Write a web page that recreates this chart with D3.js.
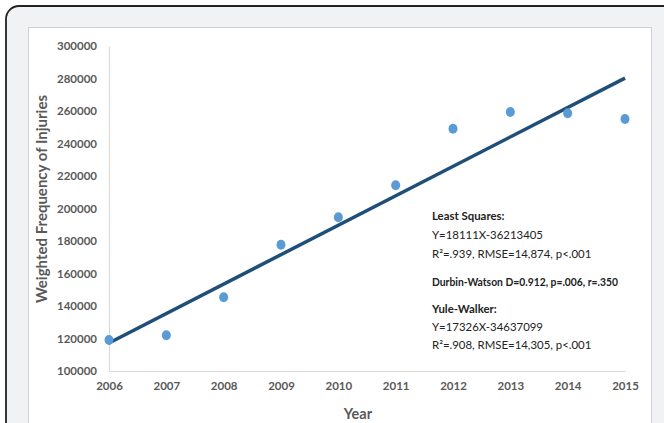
<!DOCTYPE html>
<html><head><meta charset="utf-8">
<script src="https://cdn.jsdelivr.net/npm/d3@7"></script>
<style>
html,body{margin:0;padding:0;background:#fff;}
svg{display:block;}
</style></head>
<body>
<script>
const years = [2006,2007,2008,2009,2010,2011,2012,2013,2014,2015];
const injuries = [119100,122000,145400,177700,194600,214300,249100,259400,258600,255100];
const yTicks = [100000,120000,140000,160000,180000,200000,220000,240000,260000,280000,300000];
const lsSlope = 18111, lsIntercept = -36213405;
const annotation = [
  {text:"Least Squares:", bold:true},
  {text:"Y=18111X-36213405", bold:false},
  {text:"R²=.939, RMSE=14,874, p<.001", bold:false},
  {text:"Durbin-Watson D=0.912, p=.006, r=.350", bold:true},
  {text:"Yule-Walker:", bold:true},
  {text:"Y=17326X-34637099", bold:false},
  {text:"R²=.908, RMSE=14,305, p<.001", bold:false}
];
const annY = [216,235,254,282,309,327,345];

const W=664,H=423;
const svg=d3.select("body").append("svg").attr("width",W).attr("height",H);
const font="Lato, 'Open Sans', sans-serif";

// outer frame
svg.append("rect").attr("x",6).attr("y",6).attr("width",W+20).attr("height",H+20)
  .attr("rx",13).attr("fill","#f1f2f4").attr("stroke","#222").attr("stroke-width",1.8);
// inner white panel
svg.append("rect").attr("x",28.5).attr("y",27.5).attr("width",623).attr("height",H)
  .attr("fill","#fff").attr("stroke","#cfd0d2").attr("stroke-width",1);

const x=d3.scaleLinear().domain([2006,2015]).range([109,625]);
const y=d3.scaleLinear().domain([100000,300000]).range([371,46]);

// axes
const yAxis=svg.append("g").attr("transform","translate(109,0)")
  .call(d3.axisLeft(y).tickValues(yTicks).tickSize(0).tickPadding(12).tickFormat(d3.format("d")));
const xAxis=svg.append("g").attr("transform","translate(0,371)")
  .call(d3.axisBottom(x).tickValues(years).tickSize(0).tickPadding(11).tickFormat(d3.format("d")));
[yAxis,xAxis].forEach(g=>{
  g.select(".domain").attr("stroke","#d9d9d9").attr("stroke-width",1.2);
  g.selectAll("text").attr("font-family",font).attr("font-size",11.5).attr("font-weight","bold").attr("fill","#595959");
});

// axis titles
svg.append("text").attr("x",358).attr("y",419).attr("text-anchor","middle")
  .attr("font-family",font).attr("font-size",14.5).attr("font-weight","bold").attr("fill","#595959").text("Year");
svg.append("text").attr("transform","translate(47,199) rotate(-90)").attr("text-anchor","middle")
  .attr("font-family",font).attr("font-size",15).attr("font-weight","bold").attr("fill","#595959")
  .text("Weighted Frequency of Injuries");

// regression line
const x0=years[0], x1=years[years.length-1];
svg.append("line")
  .attr("x1",x(x0)).attr("y1",y(lsSlope*x0+lsIntercept))
  .attr("x2",x(x1)).attr("y2",y(lsSlope*x1+lsIntercept))
  .attr("stroke","#1f4e79").attr("stroke-width",3.5);

// points
svg.append("g").selectAll("ellipse").data(years).join("ellipse")
  .attr("cx",(d)=>x(d)).attr("cy",(d,i)=>y(injuries[i])).attr("rx",4.5).attr("ry",5)
  .attr("fill","#5b9bd5");

// annotation
const ann=svg.append("g").selectAll("text").data(annotation).join("text")
  .attr("x",432).attr("y",(d,i)=>annY[i]+4)
  .attr("font-family",font).attr("font-size",11.4)
  .attr("font-weight",d=>d.bold?"bold":"normal").attr("fill","#222")
  .text(d=>d.text);
ann.filter((d,i)=>i===3).attr("font-size",11.8).attr("textLength",186).attr("lengthAdjust","spacingAndGlyphs");
</script>
</body></html>
